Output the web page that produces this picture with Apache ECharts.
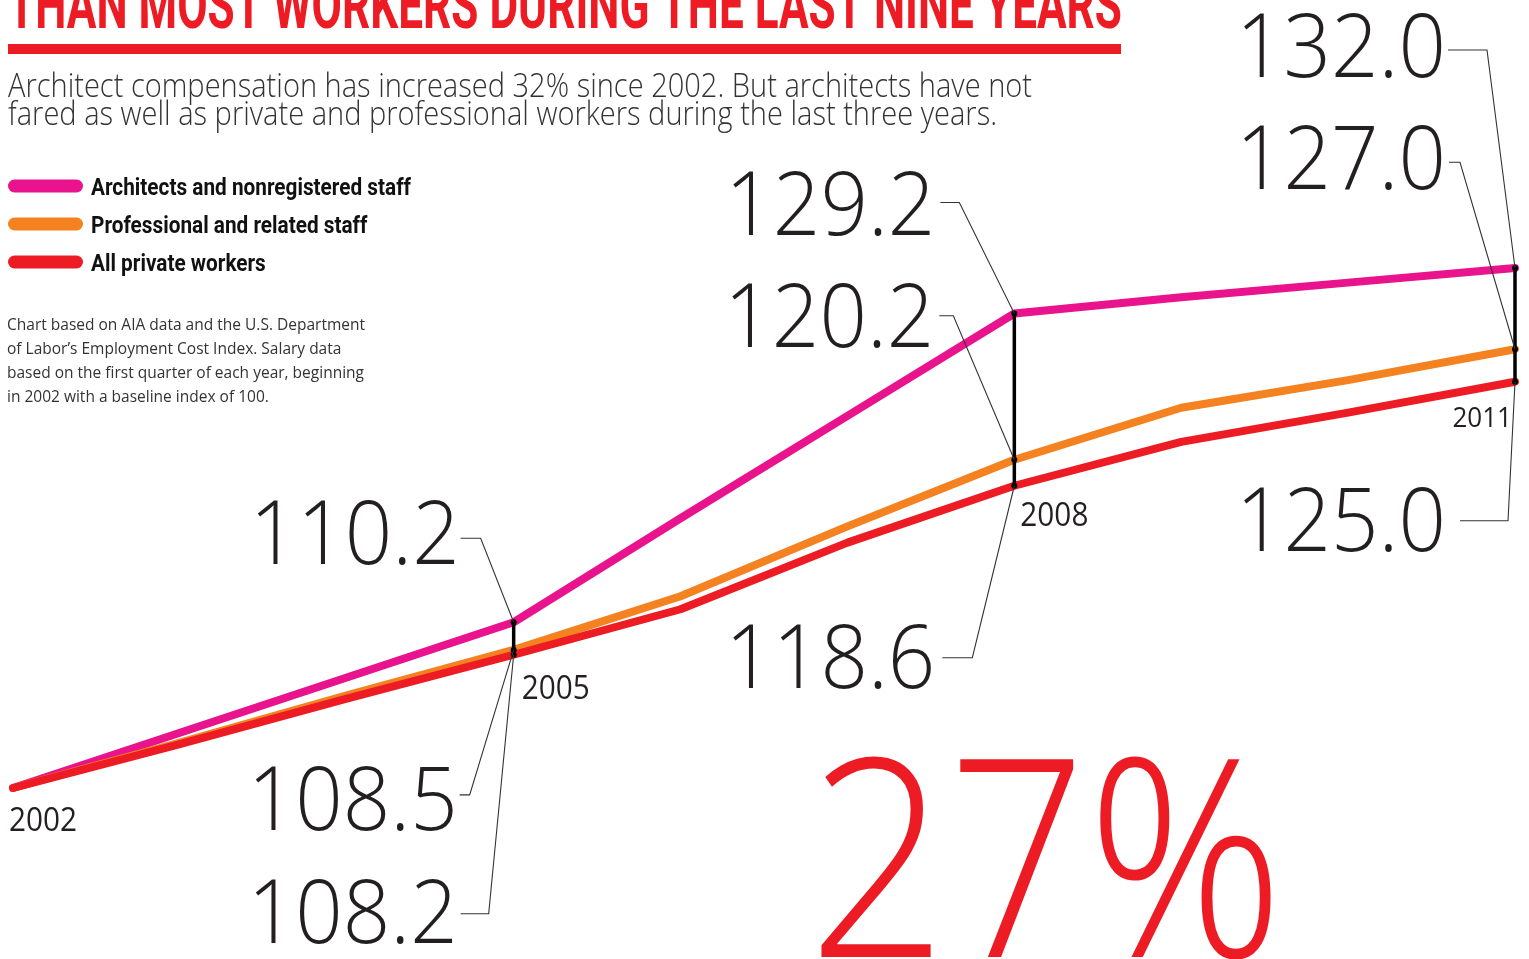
<!DOCTYPE html>
<html><head><meta charset="utf-8">
<script src="https://cdn.jsdelivr.net/npm/echarts@6/dist/echarts.min.js"></script>
<style>html,body{margin:0;padding:0;background:#fff;overflow:hidden}#c{width:1529px;height:959px}</style>
</head><body><div id="c"></div>
<script>
// ---------- DATA ----------
const years = ['2002','2003','2004','2005','2006','2007','2008','2009','2010','2011'];
const architects     = [100, 103.4, 106.8, 110.2, 116.6, 122.9, 129.2, 130.2, 131.1, 132.0];
const professional   = [100, 102.8, 105.7, 108.5, 111.8, 116.1, 120.2, 123.4, 125.1, 127.0];
const privateWorkers = [100, 102.7, 105.5, 108.2, 111.0, 115.1, 118.6, 121.3, 123.1, 125.0];
const seriesNames = ['Architects and nonregistered staff', 'Professional and related staff', 'All private workers'];
const highlightYears = ['2005', '2008', '2011'];
const yearLabelYears = ['2002', '2005', '2008', '2011'];
const titleText = 'THAN MOST WORKERS DURING THE LAST NINE YEARS';
const subtitleLines = [
  'Architect compensation has increased 32% since 2002. But architects have not',
  'fared as well as private and professional workers during the last three years.'
];
const noteLines = [
  'Chart based on AIA data and the U.S. Department',
  'of Labor\u2019s Employment Cost Index. Salary data',
  'based on the first quarter of each year, beginning',
  'in 2002 with a baseline index of 100.'
];
const bigStat = '27%';

// ---------- STYLE / LAYOUT ----------
const colors = ['#E8138D', '#F58220', '#ED1C24'];
const allSeries = [architects, professional, privateWorkers];
const FONT = '"Open Sans", "Liberation Sans", sans-serif';
const COND = 'Roboto, "Liberation Sans", sans-serif';
const TXT = '#231F20';
const mctx = document.createElement('canvas').getContext('2d');
function fit(text, weight, size, family, target) {
  mctx.font = weight + ' ' + size + 'px ' + family;
  return target / mctx.measureText(text).width;
}
// caps-center -> 'middle' anchor correction
function mid(capsCenter, size) { return capsCenter + 0.07 * size; }

// value-label layout, offsets relative to the data point (pixels)
const labelLayout = [
  {s:0, year:'2005', dx:-54, dy:-89,  lx:-53, ex:-33, ly:-84},
  {s:1, year:'2005', dx:-56, dy:149,  lx:-54, ex:-44, ly:145},
  {s:2, year:'2005', dx:-56, dy:257,  lx:-53, ex:-25, ly:259},
  {s:0, year:'2008', dx:-79, dy:-110, lx:-74, ex:-55, ly:-111},
  {s:1, year:'2008', dx:-80, dy:-144, lx:-75, ex:-61, ly:-144},
  {s:2, year:'2008', dx:-79, dy:171,  lx:-72, ex:-42, ly:172},
  {s:0, year:'2011', dx:-69, dy:-222, lx:-67, ex:-28, ly:-218},
  {s:1, year:'2011', dx:-69, dy:-191, lx:-66, ex:-55, ly:-187},
  {s:2, year:'2011', dx:-69, dy:138,  lx:-55, ex:-7,  ly:139}
];
// year-label layout relative to lowest point of that year
const yearLayout = {
  '2002': {dx:-4, dy:32, align:'left',  size:32},
  '2005': {dx:8,  dy:33, align:'left',  size:32},
  '2008': {dx:6,  dy:29, align:'left',  size:32},
  '2011': {dx:-3, dy:35, align:'right', size:28}
};

const VAL_SIZE = 88;
const valScale = fit('132.0', 300, VAL_SIZE, FONT, 210);
const yrScale = 0.93;

const chart = echarts.init(document.getElementById('c'), null, {renderer: 'canvas'});

const lineSeries = seriesNames.map((name, k) => ({
  name: name, type: 'line', data: allSeries[k], symbol: 'none', z: 2 + k,
  lineStyle: {width: 8, color: colors[k], cap: 'round', join: 'round'},
  silent: true
}));

const barData = highlightYears.map(y => {
  const i = years.indexOf(y);
  return [i, architects[i], professional[i], privateWorkers[i]];
});

const labelData = labelLayout.map((L, j) => {
  const i = years.indexOf(L.year);
  return [i, allSeries[L.s][i], j];
});

const yearData = yearLabelYears.map(y => {
  const i = years.indexOf(y);
  return [i, Math.min(architects[i], professional[i], privateWorkers[i]), y];
});

const legendGraphics = [];
const legendCenters = [186, 224, 262];
const legScale = fit(seriesNames[0], 700, 24, COND, 320);
seriesNames.forEach((n, k) => {
  legendGraphics.push({type:'rect', left: 8, top: legendCenters[k] - 6.5,
    shape:{width: 75, height: 13, r: 6.5}, style:{fill: colors[k]}});
  legendGraphics.push({type:'text', x: 91, y: mid(legendCenters[k] + 1, 24), scaleX: legScale,
    style:{text: n, fontFamily: COND, fontWeight: 700, fontSize: 24, fill: '#111',
      align:'left', verticalAlign:'middle'}});
});

const titleScale = fit(titleText, 700, 66, COND, 1114);
const subScale = fit(subtitleLines[0], 300, 33, FONT, 1024);
const noteScale = fit(noteLines[0], 400, 16, FONT, 358);
const bigScale = fit(bigStat, 300, 277, FONT, 476);

const graphics = [
  {type:'text', x: 8, y: 31 - 0.29 * 66, scaleX: titleScale,
    style:{text: titleText, fontFamily: COND, fontWeight: 700, fontSize: 66, fill: '#ED1C24',
      align:'left', verticalAlign:'middle'}},
  {type:'rect', left: 8, top: 44, shape:{width: 1113, height: 10}, style:{fill:'#ED1C24'}},
  ...subtitleLines.map((t, k) => ({type:'text', x: 8, y: mid(85 + 28 * k, 33), scaleX: subScale,
    style:{text: t, fontFamily: FONT, fontWeight: 300, fontSize: 33, fill: '#333',
      align:'left', verticalAlign:'middle'}})),
  ...legendGraphics,
  ...noteLines.map((t, k) => ({type:'text', x: 7, y: mid(324 + 24 * k, 16), scaleX: noteScale,
    style:{text: t, fontFamily: FONT, fontWeight: 400, fontSize: 16, fill: '#333',
      align:'left', verticalAlign:'middle'}})),
  {type:'text', x: 808, y: 957 - 0.285 * 277, scaleX: bigScale, z: 0,
    style:{text: bigStat, fontFamily: FONT, fontWeight: 300, fontSize: 277, fill: '#ED1C24',
      align:'left', verticalAlign:'middle'}}
];

const option = {
  animation: false,
  backgroundColor: '#fff',
  grid: {left: 13, right: 14, top: 138, bottom: 8.5, containLabel: false},
  xAxis: {type:'category', data: years, boundaryGap: false, show: false},
  yAxis: {type:'value', min: 90, max: 140, show: false},
  graphic: graphics,
  series: [
    ...lineSeries,
    {
      type: 'custom', z: 10, silent: true, clip: false,
      data: barData,
      renderItem: function (params, api) {
        const x = api.value(0);
        const vals = [api.value(1), api.value(2), api.value(3)];
        const top = api.coord([x, Math.max(...vals)]);
        const bot = api.coord([x, Math.min(...vals)]);
        const children = [{type:'line', shape:{x1: top[0], y1: top[1], x2: bot[0], y2: bot[1]},
          style:{stroke:'#000', lineWidth: 3.5}}];
        vals.forEach(v => {
          const p = api.coord([x, v]);
          children.push({type:'circle', shape:{cx: p[0], cy: p[1], r: 3}, style:{fill:'#000'}});
        });
        return {type:'group', children};
      }
    },
    {
      type: 'custom', z: 11, silent: true, clip: false,
      data: labelData,
      renderItem: function (params, api) {
        const L = labelLayout[api.value(2)];
        const v = api.value(1);
        const p = api.coord([api.value(0), v]);
        return {type:'group', children:[
          {type:'polyline', shape:{points:[[p[0] + L.lx, p[1] + L.ly], [p[0] + L.ex, p[1] + L.ly], [p[0], p[1]]]},
            style:{stroke:'#333', lineWidth: 1.1, fill: null}},
          {type:'text', x: p[0] + L.dx, y: mid(p[1] + L.dy, VAL_SIZE), scaleX: valScale,
            style:{text: v.toFixed(1), fontFamily: FONT, fontWeight: 300, fontSize: VAL_SIZE,
              fill: TXT, align:'right', verticalAlign:'middle'}}
        ]};
      }
    },
    {
      type: 'custom', z: 12, silent: true, clip: false,
      data: yearData,
      renderItem: function (params, api) {
        const idx = api.value(0);
        const y = years[idx];
        const L = yearLayout[y];
        const p = api.coord([idx, api.value(1)]);
        return {type:'text', x: p[0] + L.dx, y: mid(p[1] + L.dy, L.size), scaleX: yrScale,
          style:{text: y, fontFamily: FONT, fontWeight: 400, fontSize: L.size, fill: TXT,
            align: L.align, verticalAlign:'middle'}};
      }
    }
  ]
};
chart.setOption(option);
</script>
</body></html>
